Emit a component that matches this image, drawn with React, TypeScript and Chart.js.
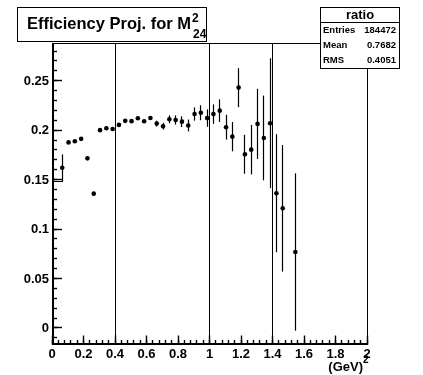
import React, { useEffect, useRef } from "react";
import { Chart, registerables } from "chart.js";

Chart.register(...registerables);

// ---- data ----
const binCenters = [
  0.065, 0.105, 0.145, 0.185, 0.225, 0.265, 0.305, 0.345, 0.385, 0.425,
  0.465, 0.505, 0.545, 0.585, 0.625, 0.665, 0.705, 0.745, 0.785, 0.825,
  0.865, 0.905, 0.945, 0.985, 1.025, 1.065, 1.105, 1.145, 1.185, 1.225,
  1.265, 1.305, 1.345, 1.385, 1.425, 1.465, 1.545,
];
const ratioValues = [
  0.162, 0.1876, 0.1887, 0.1912, 0.1715, 0.1358, 0.2, 0.2019, 0.2012, 0.2053,
  0.2094, 0.2091, 0.2121, 0.209, 0.2123, 0.2066, 0.204, 0.211, 0.2103, 0.2086,
  0.2047, 0.2163, 0.2176, 0.2122, 0.2162, 0.2197, 0.203, 0.1934, 0.243, 0.1756,
  0.1803, 0.2063, 0.1921, 0.207, 0.1362, 0.121, 0.0768,
];
const ratioErrors = [
  0.0135, 0.0015, 0.0015, 0.0015, 0.0015, 0.0015, 0.0015, 0.0015, 0.0015, 0.0015,
  0.0015, 0.0015, 0.0015, 0.0015, 0.0015, 0.003, 0.0034, 0.004, 0.0047, 0.0054,
  0.006, 0.0067, 0.0076, 0.0088, 0.0098, 0.0114, 0.0126, 0.0148, 0.0197, 0.0197,
  0.025, 0.0355, 0.0428, 0.0657, 0.0597, 0.064, 0.0795,
];
const firstBinStepX = [0, 0.065];
const firstBinStepY = [0.1485, 0.1485];
const cutLines = [0.4, 1.0, 1.4];

const xMin = 0;
const xMax = 2;
const yMin = -0.0162;
const yMax = 0.2881;
const xTickValues = [0, 0.2, 0.4, 0.6, 0.8, 1, 1.2, 1.4, 1.6, 1.8, 2];
const xTickLabels = ["0", "0.2", "0.4", "0.6", "0.8", "1", "1.2", "1.4", "1.6", "1.8", "2"];
const yTickValues = [0, 0.05, 0.1, 0.15, 0.2, 0.25];
const yTickLabels = ["0", "0.05", "0.1", "0.15", "0.2", "0.25"];
const xMinorStep = 0.04;
const yMinorStep = 0.01;

const titleMain = "Efficiency Proj. for M";
const titleSup = "2";
const titleSub = "24";
const xAxisTitle = "(GeV)";
const xAxisTitleSup = "2";
const statsName = "ratio";
const statsLabels = ["Entries", "Mean", "RMS"];
const statsValues = ["184472", "0.7682", "0.4051"];

const FONT = '"Liberation Sans", Arial, Helvetica, sans-serif';

const crisp = (v: number) => Math.floor(v) + 0.5;

const rootPlugin = {
  id: "rootStyle",
  beforeDatasetsDraw(chart: any) {
    const { ctx, chartArea: a, scales } = chart;
    const x = scales.x;
    const y = scales.y;
    ctx.save();
    ctx.strokeStyle = "#000";
    ctx.lineWidth = 1;
    const seg = (x1: number, y1: number, x2: number, y2: number) => {
      ctx.beginPath();
      ctx.moveTo(x1, y1);
      ctx.lineTo(x2, y2);
      ctx.stroke();
    };
    // cut lines
    cutLines.forEach((c) => {
      const px = crisp(x.getPixelForValue(c));
      seg(px, a.top, px, a.bottom);
    });
    // error bars
    ctx.lineWidth = 1.2;
    binCenters.forEach((bx, i) => {
      const px = crisp(x.getPixelForValue(bx));
      const lo = Math.max(y.getPixelForValue(ratioValues[i] - ratioErrors[i]), a.top);
      const hi = Math.max(y.getPixelForValue(ratioValues[i] + ratioErrors[i]), a.top);
      seg(px, Math.min(lo, a.bottom), px, hi);
    });
    ctx.lineWidth = 1;
    // first bin step
    const sy = crisp(y.getPixelForValue(firstBinStepY[0]));
    seg(x.getPixelForValue(firstBinStepX[0]), sy, crisp(x.getPixelForValue(firstBinStepX[1])) + 0.5, sy);
    ctx.restore();
  },
  afterDraw(chart: any) {
    const { ctx, chartArea: a, scales } = chart;
    const x = scales.x;
    const y = scales.y;
    ctx.save();
    ctx.strokeStyle = "#000";
    ctx.fillStyle = "#000";
    ctx.lineWidth = 1;
    const seg = (x1: number, y1: number, x2: number, y2: number) => {
      ctx.beginPath();
      ctx.moveTo(x1, y1);
      ctx.lineTo(x2, y2);
      ctx.stroke();
    };
    const L = crisp(a.left);
    const R = crisp(a.right);
    const T = crisp(a.top);
    const B = crisp(a.bottom);
    // frame (top/right thin)
    seg(L, T, R, T);
    seg(R, T, R, B);
    // axes (left/bottom thicker)
    ctx.fillRect(Math.floor(a.left), a.top, 2, a.bottom - a.top + 1);
    ctx.fillRect(Math.floor(a.left), Math.floor(a.bottom) - 1, a.right - a.left + 1, 2);
    // y ticks
    ctx.lineWidth = 1.4;
    for (let v = -0.01; v <= yMax + 1e-9; v += yMinorStep) {
      const py = crisp(y.getPixelForValue(v));
      seg(L, py, L + 4.5, py);
    }
    yTickValues.forEach((v) => {
      const py = crisp(y.getPixelForValue(v));
      seg(L, py, L + 9.5, py);
    });
    // x ticks
    for (let v = xMin; v <= xMax + 1e-9; v += xMinorStep) {
      const px = crisp(x.getPixelForValue(v));
      seg(px, B, px, B - 4.5);
    }
    xTickValues.forEach((v) => {
      const px = crisp(x.getPixelForValue(v));
      seg(px, B, px, B - 9);
    });
    ctx.lineWidth = 1;
    // labels
    ctx.font = `bold 13px ${FONT}`;
    ctx.textAlign = "right";
    ctx.textBaseline = "middle";
    yTickValues.forEach((v, i) => {
      ctx.fillText(yTickLabels[i], a.left - 3, y.getPixelForValue(v) + 0.5);
    });
    ctx.textAlign = "center";
    ctx.textBaseline = "alphabetic";
    xTickValues.forEach((v, i) => {
      ctx.fillText(xTickLabels[i], x.getPixelForValue(v), a.bottom + 13.5);
    });
    // x axis title
    ctx.textAlign = "right";
    ctx.font = `bold 13px ${FONT}`;
    ctx.fillText(xAxisTitle, 363, 371);
    ctx.textAlign = "left";
    ctx.font = `bold 10px ${FONT}`;
    ctx.fillText(xAxisTitleSup, 363, 363);

    // title box
    ctx.fillStyle = "#fff";
    ctx.fillRect(17.5, 7.5, 189, 34);
    ctx.strokeRect(17.5, 7.5, 189, 34);
    ctx.fillStyle = "#000";
    ctx.font = `bold 16.5px ${FONT}`;
    ctx.textAlign = "left";
    ctx.fillText(titleMain, 27, 29);
    const w = ctx.measureText(titleMain).width;
    ctx.font = `bold 12px ${FONT}`;
    ctx.fillText(titleSup, 27 + w + 1, 21.5);
    ctx.fillText(titleSub, 27 + w + 2, 37.5);

    // stats box
    ctx.fillStyle = "#fff";
    ctx.fillRect(320.5, 7.5, 79, 61);
    ctx.strokeRect(320.5, 7.5, 79, 61);
    seg(320.5, 22.5, 399.5, 22.5);
    ctx.fillStyle = "#000";
    ctx.font = `bold 13px ${FONT}`;
    ctx.textAlign = "center";
    ctx.textBaseline = "middle";
    ctx.fillText(statsName, 360, 15.5);
    ctx.font = `bold 9.5px ${FONT}`;
    statsLabels.forEach((lab, i) => {
      const cy = 30 + i * 15.3;
      ctx.textAlign = "left";
      ctx.fillText(lab, 323, cy);
      ctx.textAlign = "right";
      ctx.fillText(statsValues[i], 396, cy);
    });
    ctx.restore();
  },
};

export default function App() {
  const ref = useRef<HTMLCanvasElement | null>(null);
  useEffect(() => {
    if (!ref.current) return;
    const chart = new Chart(ref.current, {
      type: "scatter",
      data: {
        datasets: [
          {
            data: binCenters.map((bx, i) => ({ x: bx, y: ratioValues[i] })),
            backgroundColor: "#000",
            borderColor: "#000",
            borderWidth: 0,
            pointRadius: 2.3,
            pointHoverRadius: 2.3,
          },
        ],
      },
      options: {
        responsive: false,
        animation: false,
        events: [],
        layout: { padding: { left: 52, top: 43, right: 56, bottom: 31 } },
        plugins: { legend: { display: false }, tooltip: { enabled: false }, title: { display: false } },
        scales: {
          x: { type: "linear", min: xMin, max: xMax, display: false },
          y: { type: "linear", min: yMin, max: yMax, display: false },
        },
      },
      plugins: [rootPlugin],
    });
    return () => chart.destroy();
  }, []);
  return (
    <div style={{ position: "fixed", left: 0, top: 0, width: 423, height: 375, background: "#fff" }}>
      <canvas ref={ref} width={423} height={375} style={{ display: "block" }} />
    </div>
  );
}
